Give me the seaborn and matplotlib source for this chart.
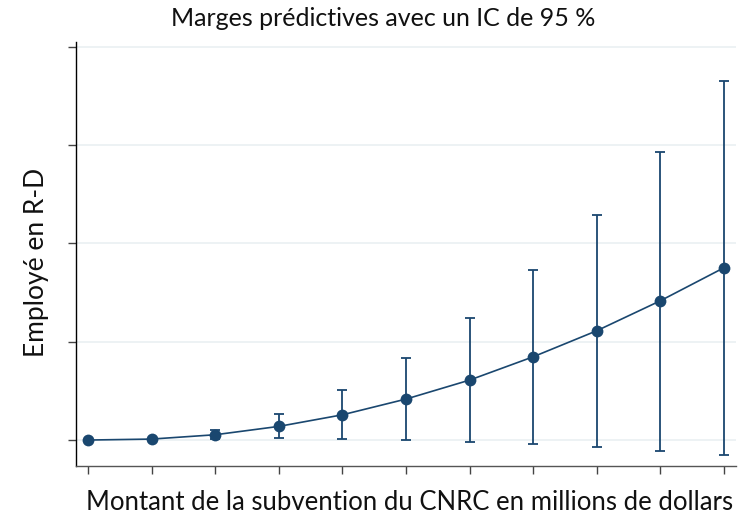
import matplotlib
matplotlib.use("Agg")
import matplotlib.pyplot as plt
import seaborn as sns
import numpy as np
import pandas as pd

# Data
montant = [0, 1, 2, 3, 4, 5, 6, 7, 8, 9, 10]
marge = [0.0, 0.01, 0.054, 0.139, 0.257, 0.417, 0.61, 0.847, 1.112, 1.417, 1.753]
ic_haut = [0.0, 0.012, 0.10, 0.265, 0.512, 0.837, 1.244, 1.729, 2.289, 2.933, 3.655]
ic_bas = [0.0, 0.008, 0.01, 0.017, 0.013, 0.0, -0.02, -0.041, -0.074, -0.109, -0.153]
yticks = [0, 1, 2, 3, 4]

title = "Marges prédictives avec un IC de 95 %"
xlabel = "Montant de la subvention du CNRC en millions de dollars"
ylabel = "Employé en R-D"

sns.set_theme(style="white")
plt.rcParams['font.family'] = ['Lato', 'DejaVu Sans']

color = "#1a476f"
df = pd.DataFrame({"montant": montant, "marge": marge, "haut": ic_haut, "bas": ic_bas})

fig = plt.figure(figsize=(7.44, 5.22), dpi=100)
ax = fig.add_axes([76/744, 1 - 466/522, (736-76)/744, (466-42)/522])

for yt in yticks:
    ax.axhline(yt, color="#eaf0f2", lw=1.2, zorder=0)

err_lo = df["marge"] - df["bas"]
err_hi = df["haut"] - df["marge"]
ax.errorbar(df["montant"], df["marge"], yerr=[err_lo, err_hi], fmt="none",
            ecolor=color, elinewidth=1.3, capsize=3.6, capthick=1.3, zorder=2)
sns.lineplot(data=df, x="montant", y="marge", ax=ax, color=color, lw=1.2,
             marker="o", markersize=8.5, markeredgewidth=0, zorder=3)

ax.set_xlim(-0.19, 10.19)
ax.set_ylim(-0.264, 4.05)
ax.set_xticks(montant)
ax.set_yticks(yticks)
ax.set_xticklabels([])
ax.set_yticklabels([])
ax.tick_params(axis="both", which="both", direction="out", length=6, width=1,
               color="#444444", bottom=True, left=True)
for s in ["top", "right"]:
    ax.spines[s].set_visible(False)
ax.spines["left"].set_color("#000000")
ax.spines["bottom"].set_color("#555555")
ax.spines["left"].set_linewidth(1)
ax.spines["bottom"].set_linewidth(1)
ax.set_xlabel("")
ax.set_ylabel("")

fig.text(383/744, 1 - 18/522, title, ha="center", va="center", fontsize=18, color="#111111")
fig.text(410/744, 1 - 503/522, xlabel, ha="center", va="center", fontsize=18.5, color="#111111")
fig.text(37/744, 1 - 262/522, ylabel, ha="center", va="center", rotation=90, fontsize=19, color="#111111")

fig.savefig("out.png", dpi=100, facecolor="white")
